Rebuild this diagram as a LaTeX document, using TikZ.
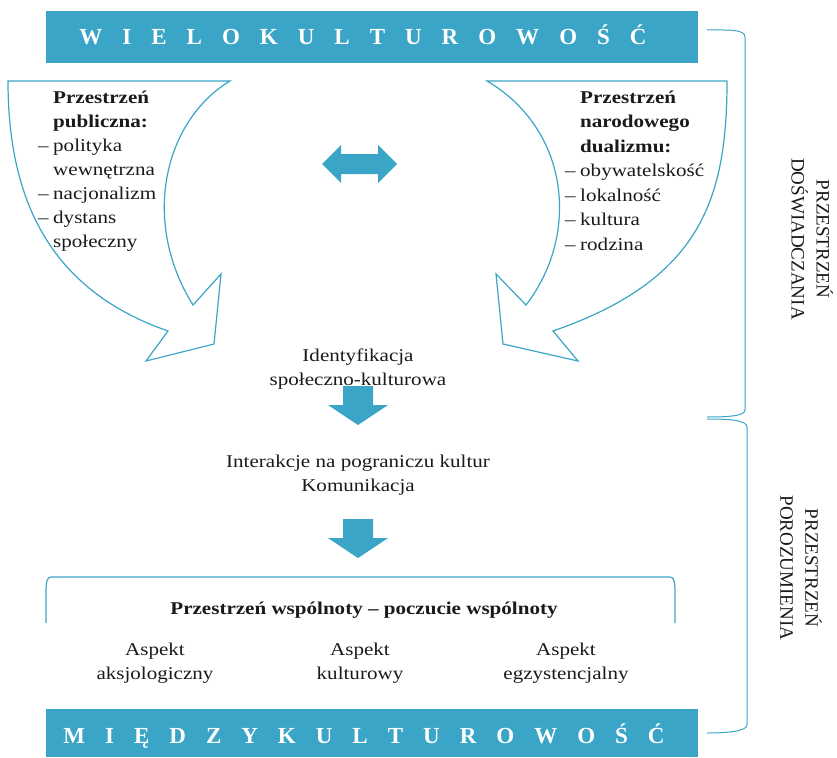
\documentclass[tikz,border=0pt]{standalone}
\usepackage{fontspec}
\setmainfont[FakeStretch=1.17]{Liberation Serif}
\newfontfamily\timesf{Liberation Serif}
\newfontfamily\bannerfont{Liberation Serif Bold}
\definecolor{blu}{HTML}{3AA5C7}
\definecolor{ink}{HTML}{1A1A1A}
\newcommand\dashitem{\makebox[15pt][l]{–}}
\newcommand\indentitem{\hspace*{15pt}}
\newcommand\bgap{\hspace{20pt}}
\tikzset{
  banner/.style={fill=blu, draw=none},
  bannertext/.style={anchor=base, inner sep=0pt, text=white, font=\bannerfont\fontsize{23}{28}\selectfont},
  bigarrow/.style={draw=blu, line width=1.2pt, fill=white, line join=miter},
  blockarrow/.style={fill=blu, draw=none},
  txt/.style={inner sep=0pt, text=ink, font=\fontsize{18}{24}\selectfont},
  listtxt/.style={txt, anchor=base west, align=left},
  centertxt/.style={txt, anchor=base, align=center},
  vtxt/.style={inner sep=0pt, text=ink, rotate=-90, align=center, font=\timesf\fontsize{19}{25}\selectfont},
  bracket/.style={draw=blu, line width=1.2pt},
}
\begin{document}
\begin{tikzpicture}[x=1pt, y=-1pt]
\useasboundingbox (0,0) rectangle (837,757);

% banners
\fill[banner] (46,11) rectangle (698,63);
\node[bannertext] (wielo) at (363,45) {W\bgap I\bgap E\bgap L\bgap O\bgap K\bgap U\bgap L\bgap T\bgap U\bgap R\bgap O\bgap W\bgap O\bgap Ś\bgap Ć};
\fill[banner] (46,709) rectangle (698,757);
\node[bannertext] (miedzy) at (364,743) {M\bgap I\bgap Ę\bgap D\bgap Z\bgap Y\bgap K\bgap U\bgap L\bgap T\bgap U\bgap R\bgap O\bgap W\bgap O\bgap Ś\bgap Ć};

% curved arrows
\draw[bigarrow] (8,81) -- (230,81) .. controls (165,120) and (140,220) .. (193,305)
  -- (221,274) -- (214,344) -- (146,361) -- (168,331)
  .. controls (50,290) and (8,200) .. (8,81) -- cycle;
\draw[bigarrow] (487,81) -- (727,81) .. controls (727,200) and (700,280) .. (553,331)
  -- (578,361) -- (503,344) -- (496,274) -- (526,305)
  .. controls (580,235) and (570,130) .. (487,81) -- cycle;

% double arrow
\fill[blockarrow] (322,164) -- (341,145) -- (341,154) -- (378,154) -- (378,145) -- (397,164)
  -- (378,183) -- (378,174) -- (341,174) -- (341,183) -- cycle;

% down arrows
\fill[blockarrow] (343,386) -- (373,386) -- (373,405) -- (388,405) -- (358,425) -- (328,405) -- (343,405) -- cycle;
\fill[blockarrow] (343,519) -- (373,519) -- (373,538) -- (388,538) -- (358,558) -- (328,538) -- (343,538) -- cycle;

% list texts (base = last line)
\node[listtxt] (publiczna) at (38,247) {\indentitem\textbf{Przestrzeń}\\ \indentitem\textbf{publiczna:}\\ \dashitem polityka\\ \indentitem wewnętrzna\\ \dashitem nacjonalizm\\ \dashitem dystans\\ \indentitem społeczny};
\node[listtxt, font=\fontsize{18}{24.5}\selectfont] (dualizm) at (565,250) {\indentitem\textbf{Przestrzeń}\\ \indentitem\textbf{narodowego}\\ \indentitem\textbf{dualizmu:}\\ \dashitem obywatelskość\\ \dashitem lokalność\\ \dashitem kultura\\ \dashitem rodzina};

% centre texts
\node[centertxt] (ident) at (358,385) {Identyfikacja\\ społeczno-kulturowa};
\node[centertxt] (inter) at (358,491) {Interakcje na pograniczu kultur\\ Komunikacja};

% community bracket
\draw[bracket] (46,623) -- (46,592) .. controls (46,582) and (47,577) .. (51,577) -- (670,577)
  .. controls (674,577) and (675,582) .. (675,592) -- (675,623);
\node[centertxt] (wspol) at (364,614) {\textbf{Przestrzeń wspólnoty – poczucie wspólnoty}};
\node[centertxt] (aks) at (155,679) {Aspekt\\ aksjologiczny};
\node[centertxt] (kult) at (360,679) {Aspekt\\ kulturowy};
\node[centertxt] (egz) at (566,679) {Aspekt\\ egzystencjalny};

% right braces
\draw[bracket, line width=1pt] (707,30) .. controls (728,30) and (745,29) .. (745,37) -- (745,410)
  .. controls (745,416) and (728,417) .. (707,417);
\draw[bracket, line width=1pt] (707,419) .. controls (728,419) and (747,420) .. (747,427) -- (747,725)
  .. controls (747,731) and (728,733) .. (707,733);
\node[vtxt] (dosw) at (812,239) {PRZESTRZEŃ\\ DOŚWIADCZANIA};
\node[vtxt] (poroz) at (801,568) {PRZESTRZEŃ\\ POROZUMIENIA};
\end{tikzpicture}
\end{document}
